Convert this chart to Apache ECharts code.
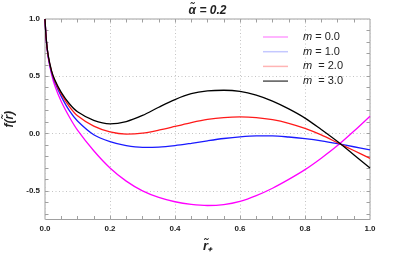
<!DOCTYPE html>
<html>
<head>
<meta charset="utf-8">
<script src="https://cdn.jsdelivr.net/npm/echarts@6/dist/echarts.min.js"></script>
<style>html,body{margin:0;padding:0;background:#fff}#c{width:415px;height:260px}</style>
</head>
<body>
<div id="c"></div>
<script>
const xs = [0, 0.004, 0.01, 0.02, 0.03, 0.05, 0.075, 0.1, 0.15, 0.2, 0.25, 0.3, 0.35, 0.4, 0.45, 0.5, 0.55, 0.6, 0.65, 0.7, 0.75, 0.8, 0.85, 0.9, 0.95, 1.0];
const m0 = [1.0, 0.81, 0.66, 0.52, 0.42, 0.28, 0.145, 0.03, -0.15, -0.30, -0.415, -0.50, -0.557, -0.595, -0.618, -0.628, -0.62, -0.592, -0.542, -0.477, -0.40, -0.315, -0.215, -0.105, 0.02, 0.152];
const m1 = [1.0, 0.815, 0.67, 0.535, 0.45, 0.325, 0.2, 0.11, -0.01, -0.07, -0.105, -0.12, -0.118, -0.105, -0.085, -0.063, -0.043, -0.028, -0.02, -0.02, -0.03, -0.045, -0.064, -0.088, -0.115, -0.143];
const m2 = [1.0, 0.82, 0.675, 0.545, 0.46, 0.345, 0.235, 0.155, 0.065, 0.015, -0.004, 0.004, 0.03, 0.062, 0.095, 0.123, 0.14, 0.146, 0.14, 0.122, 0.09, 0.045, -0.012, -0.08, -0.148, -0.216];
const m3 = [1.0, 0.82, 0.68, 0.55, 0.47, 0.36, 0.26, 0.19, 0.115, 0.085, 0.105, 0.158, 0.23, 0.297, 0.348, 0.372, 0.378, 0.368, 0.335, 0.283, 0.215, 0.135, 0.035, -0.07, -0.185, -0.30];
const seriesNames = ['m = 0.0', 'm = 1.0', 'm  = 2.0', 'm  = 3.0'];
const yLabels = [-0.5, 0, 0.5, 1.0];
const yMinorTicks = [-0.7, -0.6, -0.5, -0.4, -0.3, -0.2, -0.1, 0, 0.1, 0.2, 0.3, 0.4, 0.5, 0.6, 0.7, 0.8, 0.9];
const xMinorTicks = [0.05, 0.1, 0.15, 0.2, 0.25, 0.3, 0.35, 0.4, 0.45, 0.5, 0.55, 0.6, 0.65, 0.7, 0.75, 0.8, 0.85, 0.9, 0.95];

const colors = ['#ff00ff', '#1a1aff', '#ff1a1a', '#000000'];
const legendColors = ['#ff9cff', '#c4c8ff', '#ffb4b4', '#555555'];
const allData = [m0, m1, m2, m3];
const FONT = '"Liberation Sans", Arial, sans-serif';
const frame = '#a0a0a0';

const chart = echarts.init(document.getElementById('c'), null, {renderer: 'canvas'});
const tickAxisBase = (pos, isX, customs) => ({
  type: 'value', position: pos, min: isX ? 0 : -0.75, max: 1,
  axisLine: {show: false, onZero: false},
  axisLabel: {show: false},
  splitLine: {show: false},
  axisTick: {show: true, inside: true, length: 3.5, customValues: customs, lineStyle: {color: frame, width: 1}}
});

chart.setOption({
  animation: false,
  title: {
    text: 'α\u0303 = 0.2', left: 'center', top: 0,
    textStyle: {fontFamily: FONT, fontSize: 12, fontWeight: 'bold', fontStyle: 'italic', color: '#222'}
  },
  legend: {
    orient: 'vertical', left: 258, top: 25,
    itemWidth: 25, itemHeight: 1.5, itemGap: 0.7, icon: 'rect',
    data: seriesNames.map((n, i) => ({name: n, itemStyle: {color: legendColors[i]}})),
    formatter: n => '{i|m}' + n.slice(1),
    textStyle: {fontFamily: FONT, fontSize: 11, color: '#222', lineHeight: 14, padding: [0, 0, 0, 10],
      rich: {i: {fontStyle: 'italic', fontSize: 11, fontFamily: FONT, color: '#222'}}}
  },
  grid: {left: 45, right: 45, top: 19, bottom: 40.5, show: true, borderColor: frame, borderWidth: 1,
    backgroundColor: 'transparent', containLabel: false, outerBoundsMode: 'none'},
  xAxis: [
    {
      type: 'value', min: 0, max: 1, interval: 0.2, position: 'bottom',
      name: 'r\u0303\u208A', nameLocation: 'middle', nameGap: 20,
      nameTextStyle: {fontFamily: FONT, fontSize: 13, fontWeight: 'bold', fontStyle: 'italic', color: '#222'},
      axisLine: {show: false, onZero: false}, axisTick: {show: false},
      axisLabel: {fontFamily: FONT, fontSize: 8, fontWeight: 'bold', color: '#222', margin: 5, formatter: v => v.toFixed(1)},
      splitLine: {show: true, lineStyle: {color: '#c4c4c4', type: [1, 2.5], width: 1}}
    },
    tickAxisBase('bottom', true, xMinorTicks),
    tickAxisBase('top', true, xMinorTicks)
  ],
  yAxis: [
    {
      type: 'value', min: -0.75, max: 1, position: 'left',
      name: 'f(r\u0303)', nameLocation: 'middle', nameGap: 26, nameRotate: 90,
      nameTextStyle: {fontFamily: FONT, fontSize: 12, fontWeight: 'bold', fontStyle: 'italic', color: '#222'},
      axisLine: {show: false, onZero: false},
      axisTick: {show: false, customValues: yLabels},
      axisLabel: {customValues: yLabels, fontFamily: FONT, fontSize: 8, fontWeight: 'bold', color: '#222', margin: 5, formatter: v => v.toFixed(1)},
      splitLine: {show: true, lineStyle: {color: '#c4c4c4', type: [1, 2.5], width: 1}}
    },
    tickAxisBase('left', false, yMinorTicks),
    tickAxisBase('right', false, yMinorTicks)
  ],
  series: allData.map((d, i) => ({
    name: seriesNames[i], type: 'line', xAxisIndex: 0, yAxisIndex: 0,
    data: xs.map((x, j) => [x, d[j]]),
    showSymbol: false, symbol: 'none', smooth: 0.3, clip: true,
    lineStyle: {color: colors[i], width: 1.3},
    itemStyle: {color: colors[i]}
  }))
});
</script>
</body>
</html>
